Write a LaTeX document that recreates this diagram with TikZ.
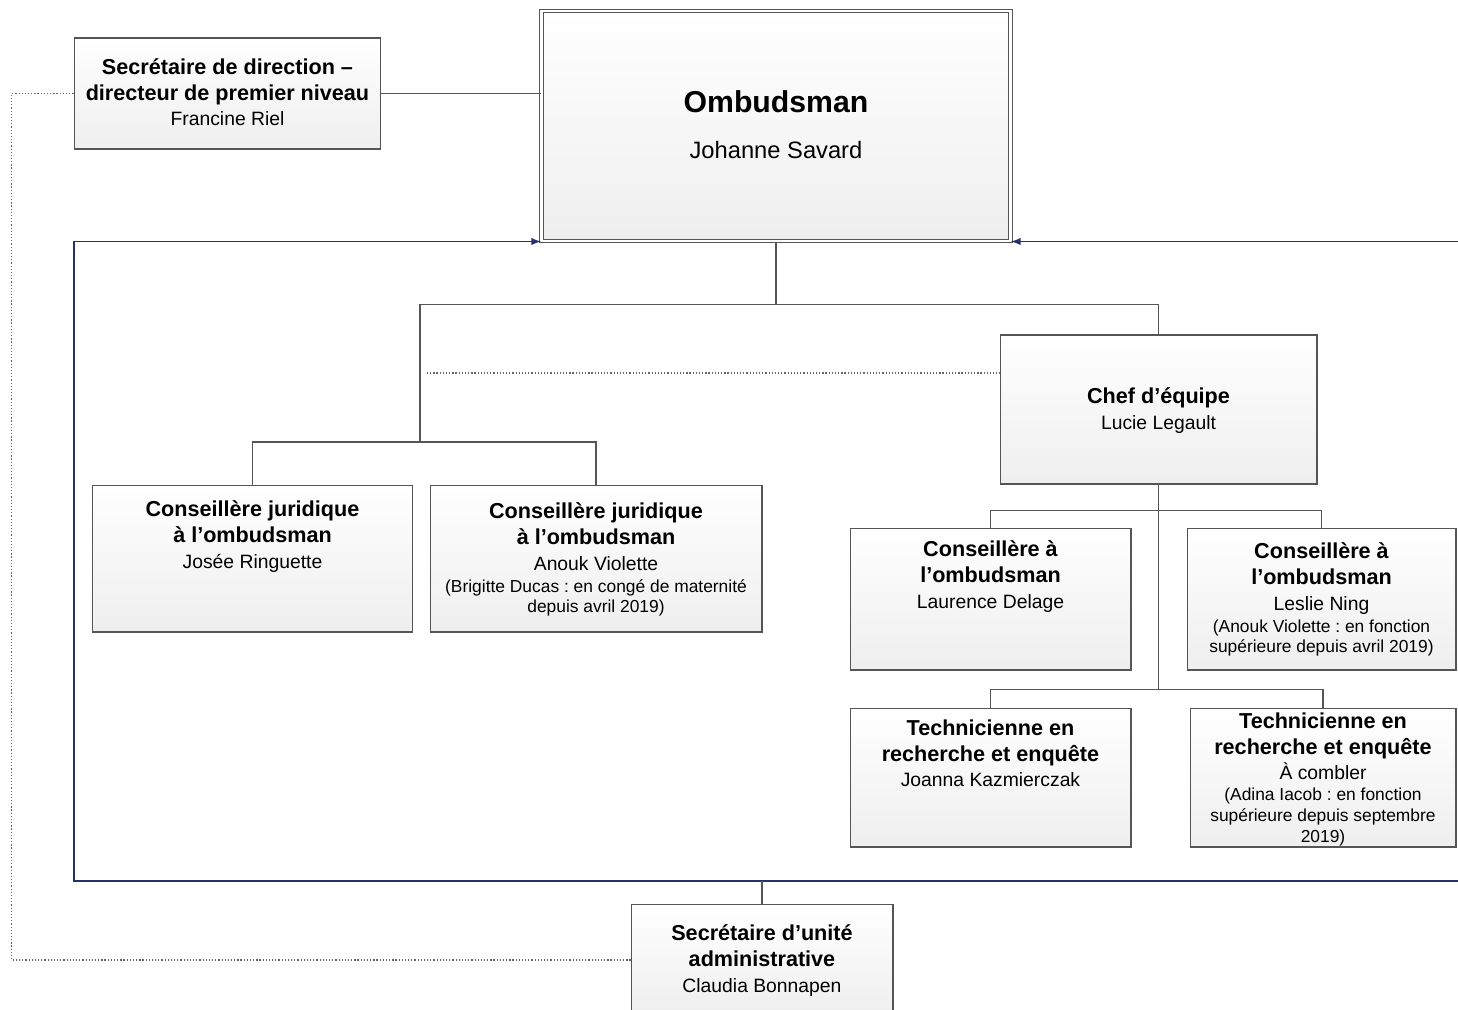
\documentclass[tikz,border=0pt]{standalone}
\usepackage{fontspec}
\setmainfont{Liberation Sans}
\usetikzlibrary{positioning}
\frenchspacing

\newcommand\ttl{\fontsize{12.3}{14.6}\selectfont\bfseries}
\newcommand\nom{\fontsize{11}{14.6}\selectfont}
\newcommand\rem{\fontsize{9.9}{14.6}\selectfont}

\definecolor{boxline}{RGB}{85,85,85}
\definecolor{navy}{RGB}{38,48,105}

\begin{document}
\begin{tikzpicture}[x=0.02cm,y=-0.02cm,
  box/.style={draw=boxline,line width=0.6pt,top color=white,bottom color=gray!13,inner sep=0pt},
  txt/.style={align=center,inner sep=0pt,font=\nom},
  conn/.style={draw=boxline,line width=0.6pt},
  dotline/.style={draw=gray!80!black,line width=0.7pt,dash pattern=on 0.7pt off 1.1pt},
  frame/.style={draw=navy,line width=0.9pt}]

\useasboundingbox (0,0) rectangle (1458,1009);

% boxes
\node[box,minimum width=6.14cm,minimum height=2.22cm] (sd) at (227.5,93.5) {};
\node[box,double=white,double distance=1.6pt,minimum width=9.38cm,minimum height=4.6cm] (omb) at (776,126) {};
\node[box,minimum width=6.34cm,minimum height=2.98cm] (chef) at (1158.5,409.5) {};
\node[box,minimum width=6.42cm,minimum height=2.94cm] (cj1) at (252.5,558.5) {};
\node[box,minimum width=6.64cm,minimum height=2.94cm] (cj2) at (596,558.5) {};
\node[box,minimum width=5.62cm,minimum height=2.84cm] (ca1) at (990.5,599) {};
\node[box,minimum width=5.38cm,minimum height=2.84cm] (ca2) at (1321.5,599) {};
\node[box,minimum width=5.62cm,minimum height=2.78cm] (te1) at (990.5,777.5) {};
\node[box,minimum width=5.32cm,minimum height=2.78cm] (te2) at (1323,777.5) {};
\node[box,minimum width=5.24cm,minimum height=2.24cm] (su) at (762,960) {};

% texts
\node[txt,below=0.42cm of sd.north] (sdt) {\ttl Secrétaire de direction –\\ \ttl directeur de premier niveau\\ \nom Francine Riel};
\node[txt,below=1.6cm of omb.north] (ombt) {\fontsize{17.2}{14.6}\selectfont\bfseries Ombudsman\\[11.4pt] \fontsize{13.5}{14.6}\selectfont Johanne Savard};
\node[txt,below=1.06cm of chef.north] (cheft) {\ttl Chef d’équipe\\ \nom Lucie Legault};
\node[txt,below=0.32cm of cj1.north] (cj1t) {\ttl Conseillère juridique\\ \ttl à l’ombudsman\\ \nom Josée Ringuette};
\node[txt,below=0.36cm of cj2.north] (cj2t) {\ttl Conseillère juridique\\ \ttl à l’ombudsman\\ \nom Anouk Violette\\[-2pt] \rem (Brigitte Ducas : en congé de maternité\\[-2.8pt] \rem depuis avril 2019)};
\node[txt,below=0.26cm of ca1.north] (ca1t) {\ttl Conseillère à\\ \ttl l’ombudsman\\ \nom Laurence Delage};
\node[txt,below=0.30cm of ca2.north] (ca2t) {\ttl Conseillère à\\ \ttl l’ombudsman\\ \nom Leslie Ning\\[-2pt] \rem (Anouk Violette : en fonction\\[-2.8pt] \rem supérieure depuis avril 2019)};
\node[txt,below=0.24cm of te1.north] (te1t) {\ttl Technicienne en\\ \ttl recherche et enquête\\ \nom Joanna Kazmierczak};
\node[txt,below=0.10cm of te2.north] (te2t) {\ttl Technicienne en\\ \ttl recherche et enquête\\ \nom À combler\\[-2.6pt] \rem (Adina Iacob : en fonction\\[-2.8pt] \rem supérieure depuis septembre\\[-2.8pt] \rem 2019)};
\node[txt,below=0.42cm of su.north] (sut) {\ttl Secrétaire d’unité\\ \ttl administrative\\ \nom Claudia Bonnapen};

% links
\draw[conn] (sd.east) -- (sd.east -| omb.west);
\draw[conn] (omb.south) -- ++(0,63) coordinate (b1);
\coordinate (jur) at (420,442);
\draw[conn] (b1) -| (jur);
\draw[conn] (b1) -| (chef.north);
\draw[conn] (jur) -| (cj1.north);
\draw[conn] (jur) -| (cj2.north);
\coordinate (dt) at (427,373);
\draw[dotline] (dt) -- (dt -| chef.west);
\draw[conn] (chef.south) -- ++(0,26) coordinate (b2) -- ++(0,179) coordinate (b3);
\draw[conn] (b2) -| (ca1.north);
\draw[conn] (b2) -| (ca2.north);
\draw[conn] (b3) -| (te1.north);
\draw[conn] (b3) -| (te2.north);

% frame
\coordinate (fsw) at (74,881);
\coordinate (fse) at (1475,881);
\draw[frame,-latex] (fse) -- (fsw) |- (omb.south west);
\draw[frame,-latex] (omb.south east -| fse) -- (omb.south east);
\draw[conn] (su.north) -- (su.north |- fsw);
\draw[dotline] (sd.west) -- ++(-62,0) |- (su.west);

\end{tikzpicture}
\end{document}
